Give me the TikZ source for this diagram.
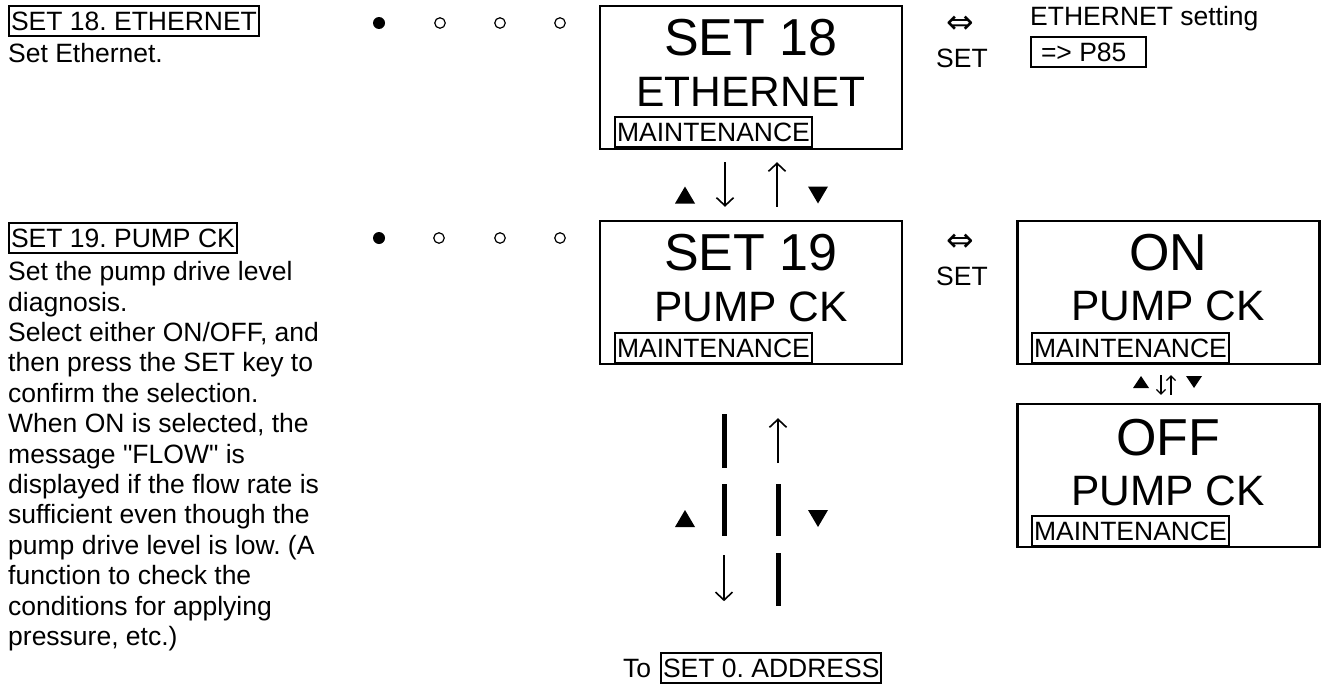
\documentclass[tikz,border=0pt]{standalone}
\usepackage{fontspec}
\setmainfont{Liberation Sans}
\newfontfamily\symfont{DejaVu Sans}
\usetikzlibrary{arrows.meta,calc}
\newcommand\fbody{\fontsize{26.5}{30.4}\selectfont}
\newcommand\fbig{\fontsize{52}{60}\selectfont}
\newcommand\fmid{\fontsize{42.5}{50}\selectfont}
\newcommand\fsym{\fontsize{33}{36}\selectfont\symfont}
\frenchspacing
\begin{document}
\begin{tikzpicture}[x=1pt,y=-1pt,
  screen/.style={draw,line width=2.4pt,inner sep=0pt,minimum height=143pt},
  tag/.style={draw,line width=2pt,inner xsep=2pt,inner ysep=0pt,text height=24.5pt,text depth=5.5pt,font=\fbody,anchor=base west},
  txt/.style={inner sep=0pt,anchor=base west,font=\fbody},
  ctxt/.style={inner sep=0pt,anchor=base,font=\fbody},
  bigtxt/.style={inner sep=0pt,anchor=base,font=\fbig},
  midtxt/.style={inner sep=0pt,anchor=base,font=\fmid},
  symtxt/.style={inner sep=0pt,anchor=base,font=\fsym},
  arr/.style={line width=1.6pt,-{Straight Barb[length=8pt,width=17pt]}},
  sarr/.style={line width=1.2pt,-{Straight Barb[length=4.5pt,width=9pt]}},
  bar/.style={line width=5pt},
  dot/.style={circle,fill,inner sep=0pt,minimum size=12pt},
  odot/.style={circle,draw,line width=1.2pt,inner sep=0pt,minimum size=10.5pt},
  uptri/.pic={\fill (-10,8.5)--(10,8.5)--(0,-8.5)--cycle;},
  dntri/.pic={\fill (-10,-8.5)--(10,-8.5)--(0,8.5)--cycle;},
  suptri/.pic={\fill (-8,6)--(8,6)--(0,-6)--cycle;},
  sdntri/.pic={\fill (-8,-6)--(8,-6)--(0,6)--cycle;}
]
\useasboundingbox (0,0) rectangle (1327,688);

% ---- left descriptions
\node[tag] (t18) at (8,30) {SET 18. ETHERNET};
\node[txt] (d18) at (8,62.5) {Set Ethernet.};
\node[tag] (t19) at (8,247) {SET 19. PUMP CK};
\foreach \t [count=\i from 0] in {Set the pump drive level,diagnosis.,{Select either ON/OFF, and},then press the SET key to,confirm the selection.,{When ON is selected, the},message \textquotedbl FLOW\textquotedbl{} is,displayed if the flow rate is,sufficient even though the,pump drive level is low. (A,function to check the,conditions for applying,{pressure, etc.)}}
  \node[txt] (p\i) at (8,{280.7+30.4*\i}) {\t};

% ---- indicator dots
\node[dot] (b18a) at (379,23) {};
\node[odot] (b18b) at (440,23) {};
\node[odot] (b18c) at (500,23) {};
\node[odot] (b18d) at (560,23) {};
\node[dot] (b19a) at (379,238) {};
\node[odot] (b19b) at (439,238) {};
\node[odot] (b19c) at (500,238) {};
\node[odot] (b19d) at (560,238) {};

% ---- SET 18 screen
\node[screen,minimum width=302pt] (s18) at (751,77.5) {};
\node[bigtxt] (s18a) at (751,55) {SET 18};
\node[midtxt] (s18b) at (751,106) {ETHERNET};
\node[tag] (m18) at (614,141.5) {MAINTENANCE};

% ---- SET 19 screen
\node[screen,minimum width=302pt] (s19) at (751,292.5) {};
\node[bigtxt] (s19a) at (751,270) {SET 19};
\node[midtxt] (s19b) at (751,321.5) {PUMP CK};
\node[tag] (m19) at (614,357) {MAINTENANCE};

% ---- arrows between SET 18 and SET 19
\draw[arr,shorten <=12pt,shorten >=13pt] ($(s18.south)+(-26,0)$) -- ($(s19.north)+(-26,0)$);
\draw[arr,shorten <=13pt,shorten >=12pt] ($(s19.north)+(26,0)$) -- ($(s18.south)+(26,0)$);
\pic at (685,195) {uptri};
\pic at (818,195) {dntri};

% ---- SET key links
\node[symtxt] (eq1) at (960,33) {⇔};
\node[ctxt] (set1) at (962,67) {SET};
\node[symtxt] (eq2) at (960,251) {⇔};
\node[ctxt] (set2) at (962,285) {SET};

\node[txt] (eth) at (1030,25) {ETHERNET setting};
\node[tag,inner xsep=0pt] (p85) at (1030,61.7) {\kern10pt=> P85\kern20pt};

% ---- ON / OFF screens
\node[screen,minimum width=302pt] (on) at (1168.5,292.5) {};
\node[bigtxt] (ona) at (1168,270) {ON};
\node[midtxt] (onb) at (1168,320) {PUMP CK};
\node[tag] (mon) at (1031,357) {MAINTENANCE};

\node[screen,minimum width=302pt] (off) at (1168.5,475.5) {};
\node[bigtxt] (offa) at (1168,455) {OFF};
\node[midtxt] (offb) at (1168,505) {PUMP CK};
\node[tag] (moff) at (1031,540.5) {MAINTENANCE};

\pic at (1141,382) {suptri};
\pic at (1194,382) {sdntri};
\draw[sarr,shorten <=10pt,shorten >=8pt] ($(on.south)+(-7.5,0)$) -- ($(off.north)+(-7.5,0)$);
\draw[sarr,shorten <=8pt,shorten >=10pt] ($(off.north)+(2.5,0)$) -- ($(on.south)+(2.5,0)$);

% ---- continuation to SET 0
\node[txt] (to) at (623,677) {To};
\node[tag] (addr) at (660,677) {SET 0. ADDRESS};

\draw[bar] ($(s19.south)+(-27,49)$) -- ++(0,54);
\draw[bar] ($(s19.south)+(-27,119)$) -- ++(0,52);
\draw[arr] ($(s19.south)+(-27,190)$) -- ++(0,46);
\draw[arr] ($(s19.south)+(27,98)$) -- ++(0,-45);
\draw[bar] ($(s19.south)+(27,119)$) -- ++(0,52);
\draw[bar] ($(s19.south)+(27,188)$) -- ++(0,53);
\pic at (685,518.5) {uptri};
\pic at (818,518.5) {dntri};
\end{tikzpicture}
\end{document}
